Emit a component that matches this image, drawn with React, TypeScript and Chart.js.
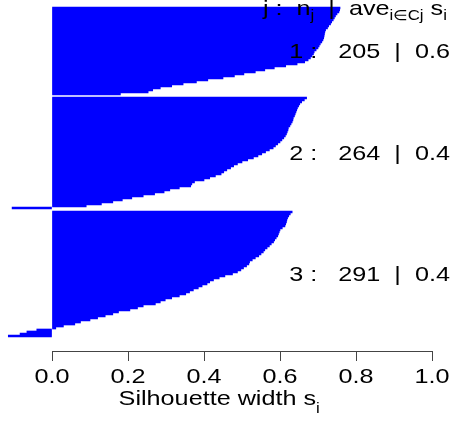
import React, { useEffect, useRef } from "react";
import { Chart, registerables } from "chart.js";

Chart.register(...registerables);

// Silhouette widths, one value per drawn row (sorted within each cluster)
const cluster1 = [
  0.758, 0.757, 0.755, 0.75, 0.746, 0.743, 0.74, 0.736, 0.733, 0.728, 0.725,
  0.72, 0.718, 0.717, 0.716, 0.715, 0.713, 0.71, 0.706, 0.703, 0.7, 0.695,
  0.69, 0.688, 0.684, 0.68, 0.674, 0.665, 0.645, 0.615, 0.585, 0.56, 0.535,
  0.505, 0.48, 0.45, 0.41, 0.38, 0.345, 0.315, 0.285, 0.265, 0.253, 0.18,
];
const cluster2 = [
  0.67, 0.664, 0.657, 0.652, 0.649, 0.646, 0.644, 0.642, 0.64, 0.638, 0.635,
  0.634, 0.632, 0.629, 0.626, 0.622, 0.621, 0.619, 0.617, 0.614, 0.61, 0.605,
  0.6, 0.594, 0.588, 0.582, 0.572, 0.562, 0.552, 0.542, 0.53, 0.515, 0.5,
  0.488, 0.478, 0.47, 0.46, 0.452, 0.445, 0.43, 0.415, 0.4, 0.375, 0.368,
  0.365, 0.335, 0.31, 0.295, 0.27, 0.24, 0.21, 0.185, 0.16, 0.13, 0.09, -0.105,
];
const cluster3 = [
  0.632, 0.627, 0.623, 0.62, 0.618, 0.617, 0.615, 0.613, 0.606, 0.6, 0.598,
  0.596, 0.594, 0.59, 0.586, 0.583, 0.577, 0.572, 0.566, 0.56, 0.556, 0.55,
  0.544, 0.535, 0.527, 0.52, 0.518, 0.512, 0.504, 0.497, 0.488, 0.475, 0.455,
  0.44, 0.425, 0.415, 0.408, 0.395, 0.385, 0.372, 0.362, 0.352, 0.335, 0.315,
  0.298, 0.285, 0.272, 0.24, 0.225, 0.205, 0.175, 0.16, 0.14, 0.12, 0.1,
  0.075, 0.06, 0.03, 0.01, -0.04, -0.066, -0.084, -0.115,
];

const clusterIds = ["1", "2", "3"];
const clusterSizes = [205, 264, 291];
const clusterAverages = ["0.6", "0.4", "0.4"];
const xTickLabels = ["0.0", "0.2", "0.4", "0.6", "0.8", "1.0"];
const xTitle = "Silhouette width s";
const xTitleSub = "i";

const GAP_ROWS = 1;
const BOTTOM_ROWS = 7;

const BLUE = "#0000FF";
const FONT = '"Liberation Sans", Arial, Helvetica, sans-serif';
const MAIN_SIZE = 21;
const SUB_SIZE = 14;
const SX = 1.2;

function buildRows() {
  const clusters = [cluster1, cluster2, cluster3];
  const values: (number | null)[] = [];
  const ranges: [number, number][] = [];
  clusters.forEach((c, i) => {
    if (i > 0) for (let g = 0; g < GAP_ROWS; g++) values.push(null);
    const start = values.length;
    c.forEach((v) => values.push(v));
    ranges.push([start, values.length - 1]);
  });
  for (let b = 0; b < BOTTOM_ROWS; b++) values.push(null);
  const labels = values.map((_, i) => String(i));
  return { values, labels, ranges };
}

type Piece = { t: string; sub?: boolean };

function drawPieces(ctx: CanvasRenderingContext2D, pieces: Piece[], x0: number, y: number, subShift: number) {
  let x = x0;
  pieces.forEach((p) => {
    const size = p.sub ? SUB_SIZE : MAIN_SIZE;
    ctx.font = `${size}px ${FONT}`;
    const w = ctx.measureText(p.t).width * SX;
    ctx.save();
    ctx.translate(x, y + (p.sub ? subShift : 0));
    ctx.scale(SX, 1);
    ctx.textAlign = "left";
    ctx.textBaseline = "alphabetic";
    ctx.fillText(p.t, 0, 0);
    ctx.restore();
    x += w;
  });
  return x - x0;
}

function measurePieces(ctx: CanvasRenderingContext2D, pieces: Piece[]) {
  let w = 0;
  pieces.forEach((p) => {
    ctx.font = `${p.sub ? SUB_SIZE : MAIN_SIZE}px ${FONT}`;
    w += ctx.measureText(p.t).width * SX;
  });
  return w;
}

export default function App() {
  const ref = useRef<HTMLCanvasElement | null>(null);

  useEffect(() => {
    if (!ref.current) return;
    const { values, labels, ranges } = buildRows();

    const textPlugin = {
      id: "silText",
      afterDraw(chart: any) {
        const ctx: CanvasRenderingContext2D = chart.ctx;
        const xs = chart.scales.x;
        const ys = chart.scales.y;
        ctx.save();
        ctx.fillStyle = "#000";

        // x tick labels
        xs.ticks.forEach((tk: any, i: number) => {
          const px = xs.getPixelForValue(tk.value);
          const txt = xTickLabels[i] ?? String(tk.value);
          ctx.font = `${MAIN_SIZE}px ${FONT}`;
          ctx.save();
          ctx.translate(px, 383);
          ctx.scale(SX, 1);
          ctx.textAlign = "center";
          ctx.fillText(txt, 0, 0);
          ctx.restore();
        });

        // x title
        const titlePieces: Piece[] = [{ t: xTitle }, { t: xTitleSub, sub: true }];
        const tw = measurePieces(ctx, titlePieces);
        const centerX = xs.getPixelForValue(0.44);
        drawPieces(ctx, titlePieces, centerX - tw / 2, 405, 8);

        // header
        const header: Piece[] = [
          { t: "j :  n" },
          { t: "j", sub: true },
          { t: "  |  ave" },
          { t: "i\u2208Cj", sub: true },
          { t: " s" },
          { t: "i", sub: true },
        ];
        drawPieces(ctx, header, 263, 15, 5);

        // cluster labels
        ranges.forEach(([a, b], i) => {
          const yc = (ys.getPixelForValue(a) + ys.getPixelForValue(b)) / 2;
          const txt = `${clusterIds[i]} :   ${clusterSizes[i]}  |  ${clusterAverages[i]}`;
          drawPieces(ctx, [{ t: txt }], 289.3, yc + 7, 0);
        });
        ctx.restore();
      },
    };

    const chart = new Chart(ref.current, {
      type: "bar",
      data: {
        labels,
        datasets: [
          {
            data: values,
            backgroundColor: BLUE,
            borderWidth: 0,
            categoryPercentage: 1,
            barPercentage: 1,
            clip: false,
          } as any,
        ],
      },
      options: {
        indexAxis: "y",
        responsive: false,
        animation: false,
        events: [],
        layout: { padding: { left: 52, right: 21, top: 7, bottom: 0 } },
        plugins: {
          legend: { display: false },
          tooltip: { enabled: false },
          title: { display: false },
        },
        scales: {
          x: {
            type: "linear",
            min: 0,
            max: 1,
            position: "bottom",
            ticks: { stepSize: 0.2, display: false },
            grid: {
              display: true,
              drawOnChartArea: false,
              drawTicks: true,
              tickLength: 10,
              color: "#444",
              lineWidth: 1,
            },
            border: { display: true, color: "#444", width: 1 },
            afterFit: (s: any) => {
              s.height = 74;
            },
          },
          y: {
            type: "category",
            display: false,
            offset: true,
          },
        },
      } as any,
      plugins: [textPlugin],
    });
    return () => chart.destroy();
  }, []);

  return (
    <div style={{ position: "fixed", left: 0, top: 0, width: 453, height: 425, background: "#fff" }}>
      <canvas ref={ref} width={453} height={425} style={{ display: "block", width: 453, height: 425 }} />
    </div>
  );
}
